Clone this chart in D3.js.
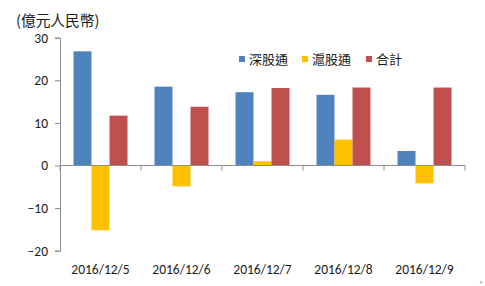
<!DOCTYPE html>
<html>
<head>
<meta charset="utf-8">
<script src="https://cdn.jsdelivr.net/npm/d3@7"></script>
<style>
  body { margin: 0; background: #fff; }
  svg { display: block; }
</style>
</head>
<body>
<div id="chart"></div>
<script>
// data
const dates = ["2016/12/5", "2016/12/6", "2016/12/7", "2016/12/8", "2016/12/9"]
const seriesNames = ["深股通", "滬股通", "合計"]
const shenzhen = [26.8, 18.5, 17.2, 16.6, 3.4]
const shanghai = [-15.2, -4.9, 1.0, 6.1, -4.2]
const total = [11.7, 13.8, 18.2, 18.3, 18.3]
const yTicks = [-20, -10, 0, 10, 20, 30]

const width = 485
const height = 286
const margin = { top: 37.7, left: 60, right: 20, bottom: 35.3 }
const colors = ["#4F81BD", "#FFC000", "#C0504D"]
const axisColor = "#8c8c8c"
const font = "Calibri, Carlito, 'Liberation Sans', Arial, sans-serif"

let svg = d3.select("#chart").append("svg")
    .attr("width", width)
    .attr("height", height)

let rows = dates.map((d, i) => ({ date: d, values: [shenzhen[i], shanghai[i], total[i]] }))

let x0 = d3.scaleBand()
    .domain(dates)
    .range([margin.left, 465])
    .paddingInner(1 / 3)
    .paddingOuter(1 / 6)

let x1 = d3.scaleBand()
    .domain(d3.range(seriesNames.length))
    .range([0, x0.bandwidth()])

let y = d3.scaleLinear()
    .domain([-20, 30])
    .range([height - margin.bottom, margin.top])

// y axis
let yAxisG = svg.append("g")
    .attr("transform", `translate(${margin.left},0)`)
    .call(d3.axisLeft(y).tickValues(yTicks).tickSize(5).tickPadding(7).tickFormat(d3.format("d")))
yAxisG.select(".domain").attr("stroke", axisColor)
yAxisG.selectAll(".tick line").attr("stroke", axisColor)
yAxisG.selectAll(".tick text")
    .attr("fill", "#1a1a1a")
    .attr("font-family", font)
    .attr("font-size", "13.5px")

// bars
let groups = svg.append("g").selectAll("g")
    .data(rows)
    .join("g")
    .attr("transform", d => `translate(${x0(d.date)},0)`)

groups.selectAll("rect")
    .data(d => d.values)
    .join("rect")
    .attr("x", (d, i) => x1(i))
    .attr("width", x1.bandwidth())
    .attr("y", d => y(Math.max(0, d)))
    .attr("height", d => Math.abs(y(d) - y(0)))
    .attr("fill", (d, i) => colors[i])

// zero line with category ticks
let step = x0.step()
let boundaries = d3.range(dates.length + 1).map(i => margin.left + i * step)
svg.append("line")
    .attr("x1", margin.left).attr("x2", boundaries[boundaries.length - 1])
    .attr("y1", y(0)).attr("y2", y(0))
    .attr("stroke", axisColor)
svg.append("g").selectAll("line")
    .data(boundaries)
    .join("line")
    .attr("x1", d => d).attr("x2", d => d)
    .attr("y1", y(0)).attr("y2", y(0) + 5)
    .attr("stroke", axisColor)

// category labels at bottom
svg.append("g").selectAll("text")
    .data(dates)
    .join("text")
    .attr("x", d => x0(d) + x0.bandwidth() / 2)
    .attr("y", 274)
    .attr("text-anchor", "middle")
    .attr("fill", "#1a1a1a")
    .attr("font-family", font)
    .attr("font-size", "13.5px")
    .text(d => d)

// unit title
svg.append("text")
    .attr("x", 16)
    .attr("y", 26)
    .attr("fill", "#1a1a1a")
    .attr("font-family", "'Noto Sans CJK TC', sans-serif")
    .attr("font-size", "14.7px")
    .text("(億元人民幣)")

// legend
let legendX = [239, 302, 366]
let legend = svg.append("g").selectAll("g")
    .data(seriesNames)
    .join("g")
    .attr("transform", (d, i) => `translate(${legendX[i]},56)`)
legend.append("rect")
    .attr("width", 6).attr("height", 6)
    .attr("fill", (d, i) => colors[i])
legend.append("text")
    .attr("x", 10)
    .attr("y", 8)
    .attr("fill", "#1a1a1a")
    .attr("font-family", "'Noto Sans CJK TC', sans-serif")
    .attr("font-size", "13px")
    .text(d => d)

// small mark at the bottom right corner
svg.append("text")
    .attr("x", 481)
    .attr("y", 285)
    .attr("text-anchor", "middle")
    .attr("fill", "#999")
    .attr("font-family", font)
    .attr("font-size", "7px")
    .text("+")
</script>
</body>
</html>
